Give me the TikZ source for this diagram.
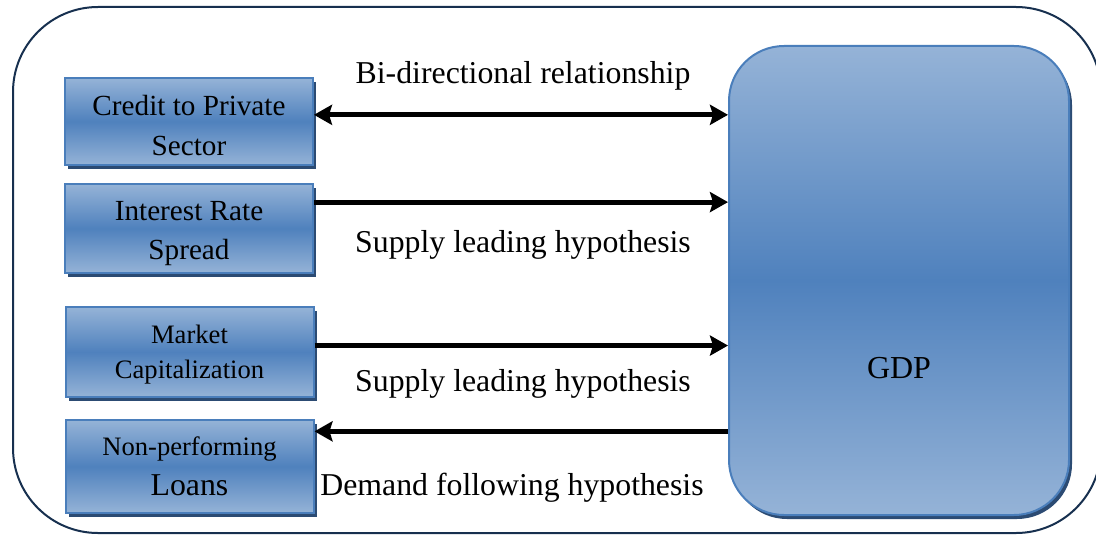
\documentclass[tikz,border=0pt]{standalone}
\usepackage{fontspec}
\setmainfont{Liberation Serif}
\usetikzlibrary{arrows.meta,calc,shadows}
\definecolor{lightb}{HTML}{95B3D7}
\definecolor{darkb}{HTML}{4F81BD}
\definecolor{edgeb}{HTML}{4A7EBB}
\definecolor{shadowb}{HTML}{2C4B73}
\definecolor{outerc}{HTML}{17304F}
\begin{document}
\begin{tikzpicture}[x=0.5pt,y=-0.5pt,
  factor/.style={draw=edgeb,line width=1pt,top color=lightb,bottom color=lightb,middle color=darkb,
    minimum width=124pt,minimum height=44.5pt,align=center,inner sep=1pt,
    general shadow={fill=shadowb,shadow xshift=1.6pt,shadow yshift=-2pt}},
  gdpbox/.style={draw=edgeb,line width=1pt,top color=lightb,bottom color=lightb,middle color=darkb,
    rounded corners=27.5pt,minimum width=170pt,minimum height=234.5pt,
    general shadow={fill=shadowb,shadow xshift=1.5pt,shadow yshift=-2pt}},
  arr/.style={line width=2.5pt,-{Stealth[length=9pt,width=10pt,inset=1.5pt]}},
  biarr/.style={line width=2.5pt,{Stealth[length=9pt,width=10pt,inset=1.5pt]}-{Stealth[length=9pt,width=10pt,inset=1.5pt]}},
  lbl/.style={font=\fontsize{15.9}{19}\selectfont,inner sep=0pt}]
\useasboundingbox (0,0) rectangle (1096,535);
\begin{scope}
\clip (0,0) rectangle (1096,535);
\draw[outerc,line width=1pt,rounded corners=42.5pt] (13,7) rectangle (1101,533);
\end{scope}
\node[gdpbox,label={[font=\fontsize{16}{19}\selectfont,yshift=-44pt]center:GDP}] (gdp) at (899,280.5) {};
\node[factor,minimum height=43.5pt,font=\fontsize{14.6}{20}\selectfont] (b1) at (189,121.5) {\rule{0pt}{14pt}Credit to Private\\Sector};
\node[factor,minimum height=44.5pt,font=\fontsize{14.6}{19.5}\selectfont] (b2) at (189,228.5) {\rule{0pt}{14.5pt}Interest Rate\\Spread};
\node[factor,minimum height=45pt,font=\fontsize{13.3}{17.5}\selectfont] (b3) at (189.5,352) {\rule{0pt}{12pt}Market\\Capitalization};
\node[factor,minimum height=46.5pt,font=\fontsize{13.3}{19}\selectfont] (b4) at (189.5,466.5) {Non-performing\\[1pt]{\fontsize{15.9}{19}\selectfont Loans}};
\coordinate (a1) at ($(b1.north east)!0.425!(b1.south east)$);
\coordinate (a2) at ($(b2.north east)!0.21!(b2.south east)$);
\coordinate (a3) at ($(b3.north east)!0.43!(b3.south east)$);
\coordinate (a4) at ($(b4.north east)!0.13!(b4.south east)$);
\draw[biarr] (a1) -- (a1 -| gdp.west);
\draw[arr] (a2) -- (a2 -| gdp.west);
\draw[arr] (a3) -- (a3 -| gdp.west);
\draw[arr] (a4 -| gdp.west) -- (a4);
\node[lbl] (l1) at (523,76) {Bi-directional relationship};
\node[lbl] (l2) at (523,245) {Supply leading hypothesis};
\node[lbl] (l3) at (523,384) {Supply leading hypothesis};
\node[lbl] (l4) at (512,488) {Demand following hypothesis};
\end{tikzpicture}
\end{document}
